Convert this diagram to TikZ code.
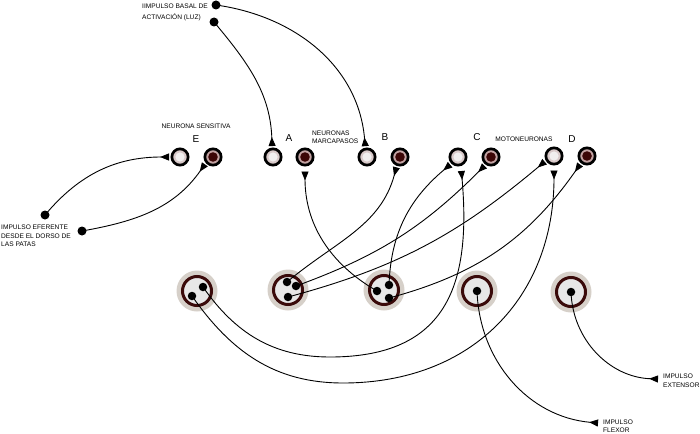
\documentclass[tikz,border=0pt]{standalone}
\usepackage{fontspec}
\setmainfont{Liberation Sans}
\usetikzlibrary{arrows.meta}
\definecolor{ringlight}{HTML}{D9CACA}
\definecolor{centerlight}{HTML}{F1EFEF}
\definecolor{ringdark}{HTML}{C2A2A2}
\definecolor{centerdark}{HTML}{3C0606}
\definecolor{halo}{HTML}{D6D0C9}
\definecolor{maroonring}{HTML}{3A0A0A}
\definecolor{innergray}{HTML}{E7E7E7}
\begin{document}
\begin{tikzpicture}[x=1pt,y=1pt,
  sn/.style={circle, draw=black, line width=2.7pt, minimum size=16.3pt, inner sep=0pt},
  lightn/.style={sn, fill=ringlight, path picture={\fill[centerlight] (path picture bounding box.center) circle (4.6pt);}},
  darkn/.style={sn, fill=ringdark, path picture={\fill[centerdark] (path picture bounding box.center) circle (4.8pt);}},
  bign/.style={circle, fill=halo, minimum size=41pt, inner sep=0pt, path picture={\draw[maroonring, line width=3pt, fill=innergray] (path picture bounding box.center) circle (14.5pt);}},
  dot/.style={circle, fill=black, minimum size=8.5pt, inner sep=0pt},
  conn/.style={line width=0.9pt, black},
  arr/.style={conn, -{Triangle[reversed, length=9pt, width=7pt]}, shorten >=1.5pt},
  arrgap/.style={arr, shorten >=5pt},
  lbl/.style={font=\fontsize{6.6}{8.3}\selectfont, align=left, inner sep=0pt},
  letter/.style={font=\fontsize{10}{12}\selectfont, inner sep=0pt}
]
\useasboundingbox (0,0) rectangle (700,-433);

% top neurons
\node[lightn] (E1) at (180,-157) {};
\node[darkn]  (E2) at (213,-157) {};
\node[lightn] (A1) at (273,-157) {};
\node[darkn]  (A2) at (305,-157) {};
\node[lightn] (B1) at (367,-157) {};
\node[darkn]  (B2) at (400,-157) {};
\node[lightn] (C1) at (458,-157) {};
\node[darkn]  (C2) at (491,-157) {};
\node[lightn] (D1) at (554,-156) {};
\node[darkn]  (D2) at (587,-156) {};

% bottom neurons
\node[bign] (N1) at (197,-291) {};
\node[bign] (N2) at (288,-290) {};
\node[bign] (N3) at (384,-290) {};
\node[bign] (N4) at (477,-291) {};
\node[bign] (N5) at (571,-292) {};

% dots in bottom neurons
\node[dot] (d1a) at (192,-296) {};
\node[dot] (d1b) at (203,-287) {};
\node[dot] (d2a) at (287,-282) {};
\node[dot] (d2b) at (296,-286) {};
\node[dot] (d2c) at (288,-297) {};
\node[dot] (d3a) at (389,-285) {};
\node[dot] (d3b) at (377,-291) {};
\node[dot] (d3c) at (389,-298) {};
\node[dot] (d4) at (477,-291) {};
\node[dot] (d5) at (571,-292) {};

% input dots
\node[dot, minimum size=9pt] (bas1) at (216,-5) {};
\node[dot, minimum size=9pt] (bas2) at (214,-22) {};
\node[dot, minimum size=9pt] (eff1) at (45,-215) {};
\node[dot, minimum size=9pt] (eff2) at (82,-231) {};
\coordinate (flexend) at (598,-423);
\coordinate (extend) at (658,-379);

% texts
\node[lbl, anchor=north west, font=\fontsize{6.6}{10.5}\selectfont] (tbas) at (142,-4) {IIMPULSO BASAL DE\\ACTIVACIÓN (LUZ)};
\node[lbl, anchor=north west] (teff) at (1,-225) {IMPULSO EFERENTE\\DESDE EL DORSO DE\\LAS PATAS};
\node[lbl] (tsens) at (196,-126.4) {NEURONA SENSITIVA};
\node[lbl, anchor=north west] (tmarc) at (312,-130.7) {NEURONAS\\MARCAPASOS};
\node[lbl] (tmoto) at (524,-139.5) {MOTONEURONAS};
\node[lbl, anchor=north west] (text) at (663,-374) {IMPULSO\\EXTENSOR};
\node[lbl, anchor=north west] (tflex) at (603,-419.3) {IMPULSO\\FLEXOR};
\node[letter] (lE) at (196,-138.7) {E};
\node[letter] (lA) at (289,-138) {A};
\node[letter] (lB) at (385,-137) {B};
\node[letter] (lC) at (477,-137) {C};
\node[letter] (lD) at (572,-139.5) {D};

% connectors
\draw[arr] (bas1.center) to[out=-8,in=95] (B1.100);
\draw[arr] (bas2.center) to[out=-50,in=92] (A1.95);
\draw[arr] (eff1.center) to[out=50,in=180] (E1.west);
\draw[arr] (eff2.center) to[out=10,in=-125] (E2.220);
\draw[arrgap] (d3b.center) to[out=150,in=-90] (A2.south);
\draw[arr] (d2a.center) to[out=40,in=-105] (B2.250);
\draw[arr] (d3a.center) to[out=88,in=-140] (C1.225);
\draw[arrgap] (d1b.center) to[out=-55,in=180] (330,-357) to[out=0,in=-85,looseness=1.3] (C1.-72);
\draw[arrgap] (d1a.center) to[out=-55,in=180] (343,-383) to[out=0,in=-90,looseness=1.1] (D1.south);
\draw[arr] (d3c.center) to[out=15,in=-125] (D2.230);
\draw[arr] (d2b.center) to[out=20,in=-135] (C2.235);
\draw[arr] (d2c.center) to[out=15,in=-140] (D1.210);
\draw[arr, shorten >=0pt] (d4.center) to[out=-88,in=175] (flexend);
\draw[arr, shorten >=0pt] (d5.center) to[out=-88,in=178] (extend);
\end{tikzpicture}
\end{document}
